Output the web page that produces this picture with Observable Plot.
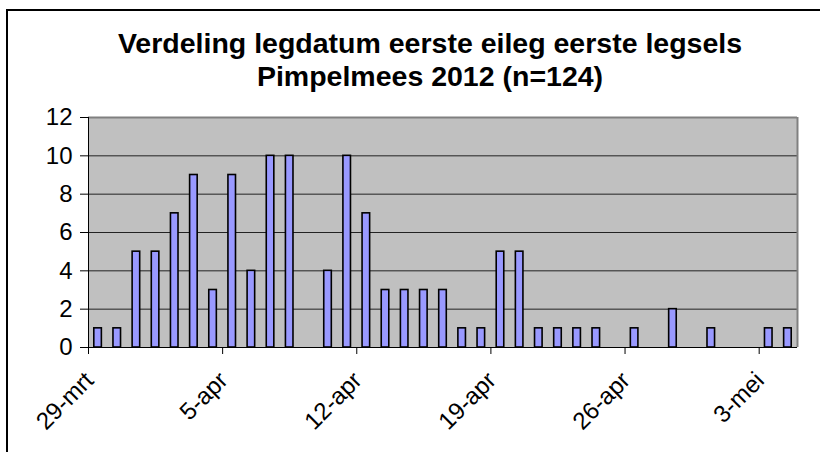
<!DOCTYPE html>
<html>
<head>
<meta charset="utf-8">
<script src="https://cdn.jsdelivr.net/npm/d3@7"></script>
<script src="https://cdn.jsdelivr.net/npm/@observablehq/plot@0.6"></script>
<style>
  html, body { margin: 0; padding: 0; background: #fff; overflow: hidden; }
  #wrap { position: relative; width: 820px; height: 452px; overflow: hidden; }
  #border { position: absolute; left: 6px; top: 9px; width: 840px; height: 470px; border: 2px solid #000; box-sizing: border-box; }
  #title { position: absolute; left: 30px; top: 27px; width: 800px; text-align: center;
           font-family: "Liberation Sans", Arial, sans-serif; font-weight: bold; font-size: 28.5px; line-height: 33px; color: #000; }
  #chart { position: absolute; left: 0; top: 0; }
</style>
</head>
<body>
<div id="wrap">
  <div id="border"></div>
  <div id="chart"></div>
  <div id="title">Verdeling legdatum eerste eileg eerste legsels<br>Pimpelmees 2012 (n=124)</div>
</div>
<script>
// Laying dates (first egg) and number of clutches per day
const layDates = [
  "2012-03-29","2012-03-30","2012-03-31","2012-04-01","2012-04-02","2012-04-03","2012-04-04",
  "2012-04-05","2012-04-06","2012-04-07","2012-04-08","2012-04-10","2012-04-11","2012-04-12",
  "2012-04-13","2012-04-14","2012-04-15","2012-04-16","2012-04-17","2012-04-18","2012-04-19",
  "2012-04-20","2012-04-21","2012-04-22","2012-04-23","2012-04-24","2012-04-26","2012-04-28",
  "2012-04-30","2012-05-03","2012-05-04"
];
const layCounts = [
  1,1,5,5,7,9,3,
  9,4,10,10,4,10,7,
  3,3,3,3,1,1,5,
  5,1,1,1,1,1,2,
  1,1,1
];
const tickDates = ["2012-03-29","2012-04-05","2012-04-12","2012-04-19","2012-04-26","2012-05-03"];
const tickLabels = ["29-mrt","5-apr","12-apr","19-apr","26-apr","3-mei"];
const yTicks = [0,2,4,6,8,10,12];
const xStart = "2012-03-29", xEnd = "2012-05-05";

const DAY = 24*3600*1000;
const data = layDates.map((d, i) => ({date: new Date(d), count: layCounts[i]}));
const ticks = tickDates.map(d => new Date(d));

const chart = Plot.plot({
  width: 820, height: 452,
  marginLeft: 88, marginRight: 23, marginTop: 117, marginBottom: 105,
  x: {type: "utc", domain: [new Date(xStart), new Date(xEnd)]},
  y: {domain: [0, 12]},
  style: {fontFamily: "'Liberation Sans', Arial, sans-serif", fontSize: "24px", color: "#000", background: "transparent", overflow: "visible"},
  marks: [
    Plot.frame({fill: "#c0c0c0", stroke: null}),
    Plot.ruleY(yTicks.filter(v => v > 0 && v < 12), {stroke: "#222", strokeWidth: 1}),
    Plot.ruleY([12], {stroke: "#808080", strokeWidth: 2}),
    Plot.ruleX([new Date(xEnd)], {stroke: "#808080", strokeWidth: 2}),
    Plot.rectY(data, {
      x1: d => d.date, x2: d => new Date(+d.date + DAY), y: "count",
      fill: "#9999ff", stroke: "#000", strokeWidth: 1.6, insetLeft: 5.8, insetRight: 5.8
    }),
    Plot.ruleX([new Date(xStart)], {stroke: "#000", strokeWidth: 1}),
    Plot.ruleY([0], {stroke: "#000", strokeWidth: 1}),
    Plot.axisY({ticks: yTicks, tickSize: 8, tickPadding: 8, label: null, tickFormat: d => String(d), fontSize: 24}),
    Plot.axisX({ticks: ticks, tickSize: 7, label: null, tickFormat: () => ""}),
    Plot.text(ticks, {
      x: d => d, text: (d, i) => tickLabels[i], frameAnchor: "bottom",
      rotate: -45, textAnchor: "end", lineAnchor: "middle", dx: 1, dy: 29, fontSize: 24
    })
  ]
});
document.getElementById("chart").appendChild(chart);
</script>
</body>
</html>
